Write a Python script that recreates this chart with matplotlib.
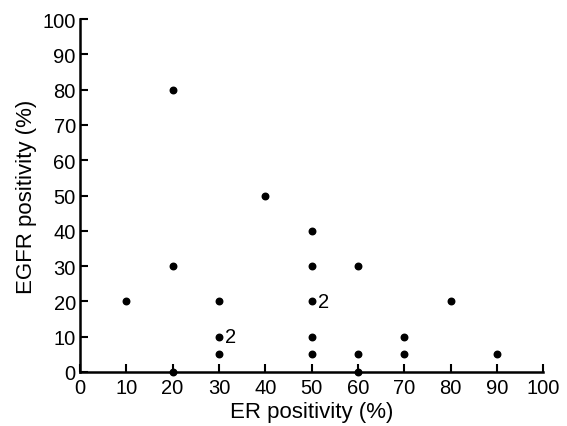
import matplotlib
matplotlib.use("Agg")
from matplotlib import pyplot as plt

plt.rcParams['font.family'] = ['Liberation Sans', 'DejaVu Sans']

# ER positivity (%) vs EGFR positivity (%)
er = [10, 20, 20, 20, 30, 30, 30, 40, 50, 50, 50, 50, 50, 60, 60, 60, 70, 70, 80, 90]
egfr = [20, 80, 30, 0, 20, 10, 5, 50, 40, 30, 20, 10, 5, 30, 5, 0, 10, 5, 20, 5]
# points standing for two cases
dup_er = [30, 50]
dup_egfr = [10, 20]

fig = plt.figure(figsize=(5.67, 4.27), dpi=100)
ax = fig.add_axes([0.141, 0.1265, 0.817, 0.8265])
ax.scatter(er, egfr, s=22, color='black', zorder=3, clip_on=False)
for x, y in zip(dup_er, dup_egfr):
    ax.text(x + 1.3, y, '2', fontsize=14.5, va='center', ha='left')

ax.set_xlim(0, 100)
ax.set_ylim(0, 100)
ax.set_xticks(range(0, 101, 10))
ax.set_yticks(range(0, 101, 10))
ax.spines['top'].set_visible(False)
ax.spines['right'].set_visible(False)
ax.spines['left'].set_linewidth(1.8)
ax.spines['bottom'].set_linewidth(1.8)
ax.tick_params(direction='in', length=6, width=1.5, labelsize=14.5)
ax.tick_params(axis='x', pad=4)
ax.tick_params(axis='y', pad=3)
ax.set_xlabel('ER positivity (%)', fontsize=16, labelpad=3)
ax.set_ylabel('EGFR positivity (%)', fontsize=16, labelpad=4)

fig.savefig('out.png', dpi=100)
